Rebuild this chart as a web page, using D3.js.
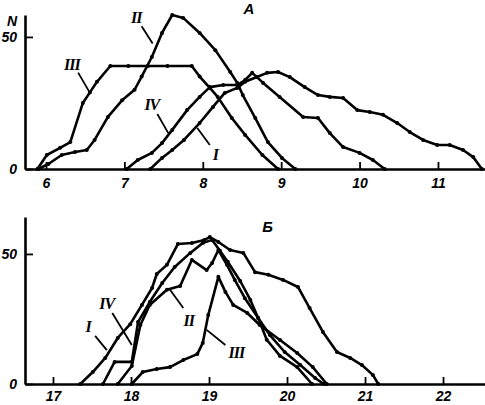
<!DOCTYPE html>
<html><head><meta charset="utf-8">
<script src="https://cdn.jsdelivr.net/npm/d3@7"></script>
<style>
html,body{margin:0;padding:0;background:#fff;}
svg{display:block;}
.tick text{font-family:"Liberation Sans",Arial,sans-serif;font-style:italic;font-weight:bold;font-size:14px;fill:#000;}
</style></head>
<body>
<svg id="chart" width="485" height="405"></svg>
<script>
// ---------- DATA (panel А) ----------
const topXTicks = [6, 7, 8, 9, 10, 11];
const topYTicks = [0, 50];
const topI_x  = [7.33,7.48,7.61,7.76,7.96,8.13,8.28,8.44,8.54,8.69,8.82,8.96,9.11,9.30,9.47,9.62,9.79,9.97,10.13,10.30,10.48,10.64,10.81,10.99,11.15,11.32,11.45,11.56];
const topI_y  = [0,4.2,7.2,11,17.4,23.5,28.8,30.7,33,34.8,36.4,36.7,34.8,31,28,27.3,26.9,22.3,21.6,20.5,17.4,14,11,9.1,9.1,7.2,4.5,0];
const topII_x = [5.90,6.03,6.20,6.37,6.52,6.62,6.79,6.97,7.13,7.22,7.35,7.48,7.61,7.75,7.96,8.16,8.35,8.44,8.51,8.67,8.83,9.01,9.18];
const topII_y = [0,1.9,5.3,6.4,7.2,11,19.7,26,30,35,42.4,51.5,58.3,57.2,51.5,45,36.7,32.6,28,19.3,10.2,4.2,0];
const topIII_x = [5.89,6.01,6.18,6.31,6.47,6.56,6.65,6.82,7.05,7.3,7.55,7.86,7.96,8.09,8.19,8.37,8.54,8.76,8.96];
const topIII_y = [0,5.3,8,10.2,25,29,33,39,39,39,39,39,35,30.7,27.3,19.3,12.9,5.3,0];
const topIV_x = [7.03,7.17,7.35,7.48,7.61,7.80,7.96,8.09,8.26,8.44,8.54,8.63,8.77,8.98,9.28,9.47,9.62,9.79,10.0,10.17,10.32];
const topIV_y = [0,3.4,6.1,9.8,14.8,22.3,27.3,31,31.8,31.8,33.7,36.4,32.6,27.3,19.7,19.3,13.6,8.3,6.1,3.4,0];

// ---------- DATA (panel Б) ----------
const botXTicks = [17, 18, 19, 20, 21, 22];
const botYTicks = [0, 50];
const botI_x  = [17.35,17.51,17.67,17.83,17.99,18.14,18.27,18.33,18.46,18.60,18.78,18.94,19.01,19.12,19.27,19.44,19.59,19.76,19.95,20.14,20.29,20.46,20.64,20.81,20.96,21.10,21.17];
const botI_y  = [0,4.6,10,17.7,23,30.4,36.9,42.3,45.8,53.8,54.2,55.4,56.5,54.6,51.5,50.4,43,42,40,37.3,29.2,20,12.3,10,7.3,3.5,0];
const botII_x = [17.83,18.01,18.12,18.24,18.46,18.63,18.78,18.97,19.04,19.12,19.23,19.33,19.46,19.63,19.78,19.97,20.17,20.36,20.47];
const botII_y = [0,6.9,22.7,30.4,36.2,37.7,47.7,43.8,46.5,51.5,45.8,40,33,25.4,18.8,12.3,7.3,2.3,0];
const botIII_x = [18.01,18.15,18.33,18.50,18.67,18.85,18.92,18.99,19.12,19.21,19.31,19.49,19.65,19.91,20.13,20.33,20.51];
const botIII_y = [0,4.6,5.8,6.5,9.2,11.5,15.8,26.5,41.2,35.4,30.4,27.3,22.7,16.9,11.9,6.5,0];
const botIV_x = [17.64,17.79,18.01,18.09,18.24,18.40,18.56,18.76,18.92,19.04,19.14,19.24,19.40,19.53,19.63,19.74,19.91,20.13,20.32];
const botIV_y = [0,8.5,8.5,23.8,31.5,38.8,45,50.4,54.2,55.4,51.2,47,39.6,32.3,25.4,17,10.8,6.5,0];

// ---------- LABELS ----------
const topLabels = [
  {t:"II",  x:7.15, y:57.5, p:[[7.22,54],[7.36,47.5]]},
  {t:"III", x:6.33, y:39.5, p:[[6.41,36.5],[6.56,28.8]]},
  {t:"IV",  x:7.35, y:24.5, p:[[7.42,20.8],[7.56,13.6]]},
  {t:"I",   x:8.16, y:5.5,  p:[[8.09,9.1],[7.93,15.5]]}
];
const botLabels = [
  {t:"I",   x:17.45, y:22,   p:[[17.54,18.5],[17.69,13]]},
  {t:"IV",  x:17.69, y:31,   p:[[17.76,27.3],[18.01,15]]},
  {t:"II",  x:18.74, y:24.5, p:[[18.67,29.2],[18.5,36.2]]},
  {t:"III", x:19.35, y:12,   p:[[19.21,15],[18.97,20.8]]}
];

const svg = d3.select("#chart");

function panel(cfg){
  const x = d3.scaleLinear().domain(cfg.xd).range([25, 485]);
  const y = d3.scaleLinear().domain(cfg.yd).range([cfg.base, cfg.top]);
  const g = svg.append("g");

  const xa = d3.axisBottom(x).tickValues(cfg.xt).tickSizeInner(-7).tickSizeOuter(0).tickPadding(cfg.pad).tickFormat(d3.format("d"));
  const gx = g.append("g").attr("transform", `translate(0,${cfg.base})`).call(xa);
  gx.select(".domain").attr("stroke","#000").attr("stroke-width",2.6);
  gx.selectAll(".tick line").attr("stroke","#000").attr("stroke-width",1.8);

  const ya = d3.axisLeft(y).tickValues(cfg.yt).tickSizeInner(-8).tickSizeOuter(0).tickPadding(8);
  const gy = g.append("g").attr("transform", `translate(25,0)`).call(ya);
  gy.select(".domain").attr("stroke","#000").attr("stroke-width",2.6);
  gy.selectAll(".tick line").attr("stroke","#000").attr("stroke-width",1.8);

  const line = d3.line().x(d=>x(d[0])).y(d=>y(d[1]));
  cfg.series.forEach(s=>{
    const pts = s[0].map((v,i)=>[v, s[1][i]]);
    g.append("path").datum(pts).attr("d", line).attr("fill","none")
      .attr("stroke","#000").attr("stroke-width",2.6).attr("stroke-linejoin","round");
    g.selectAll(null).data(pts).enter().append("circle")
      .attr("cx", d=>x(d[0])).attr("cy", d=>y(d[1])).attr("r", 2).attr("fill","#000");
  });

  cfg.labels.forEach(l=>{
    g.append("line").attr("x1", x(l.p[0][0])).attr("y1", y(l.p[0][1]))
      .attr("x2", x(l.p[1][0])).attr("y2", y(l.p[1][1]))
      .attr("stroke","#000").attr("stroke-width",1.8);
    g.append("text").attr("x", x(l.x)).attr("y", y(l.y)).attr("dy","0.35em")
      .attr("text-anchor","middle")
      .style("font-family","'Liberation Serif','Times New Roman',serif")
      .style("font-style","italic").style("font-weight","bold").style("font-size","16px")
      .style("letter-spacing","-1px")
      .text(l.t);
  });

  g.append("text").attr("x", x(cfg.title[1])).attr("y", y(cfg.title[2])).attr("dy","0.35em")
    .attr("text-anchor","middle")
    .style("font-family","'Liberation Sans',Arial,sans-serif")
    .style("font-style","italic").style("font-weight","bold").style("font-size","15px")
    .text(cfg.title[0]);
  return {x, y, g};
}

const P1 = panel({
  xd:[5.732, 11.6], yd:[0, 58.3], base:169, top:15, xt:topXTicks, yt:topYTicks, pad:9,
  series:[[topI_x,topI_y],[topII_x,topII_y],[topIII_x,topIII_y],[topIV_x,topIV_y]],
  labels:topLabels, title:["А", 8.59, 60.5]
});
P1.g.append("text").attr("x", 12).attr("y", P1.y(56)).attr("dy","0.35em")
  .attr("text-anchor","middle")
  .style("font-family","'Liberation Sans',Arial,sans-serif")
  .style("font-style","italic").style("font-weight","bold").style("font-size","14px")
  .text("N");

const P2 = panel({
  xd:[16.641, 22.538], yd:[0, 64.2], base:384, top:217, xt:botXTicks, yt:botYTicks, pad:7,
  series:[[botI_x,botI_y],[botII_x,botII_y],[botIII_x,botIII_y],[botIV_x,botIV_y]],
  labels:botLabels, title:["Б", 19.75, 60.5]
});
</script>
</body></html>
